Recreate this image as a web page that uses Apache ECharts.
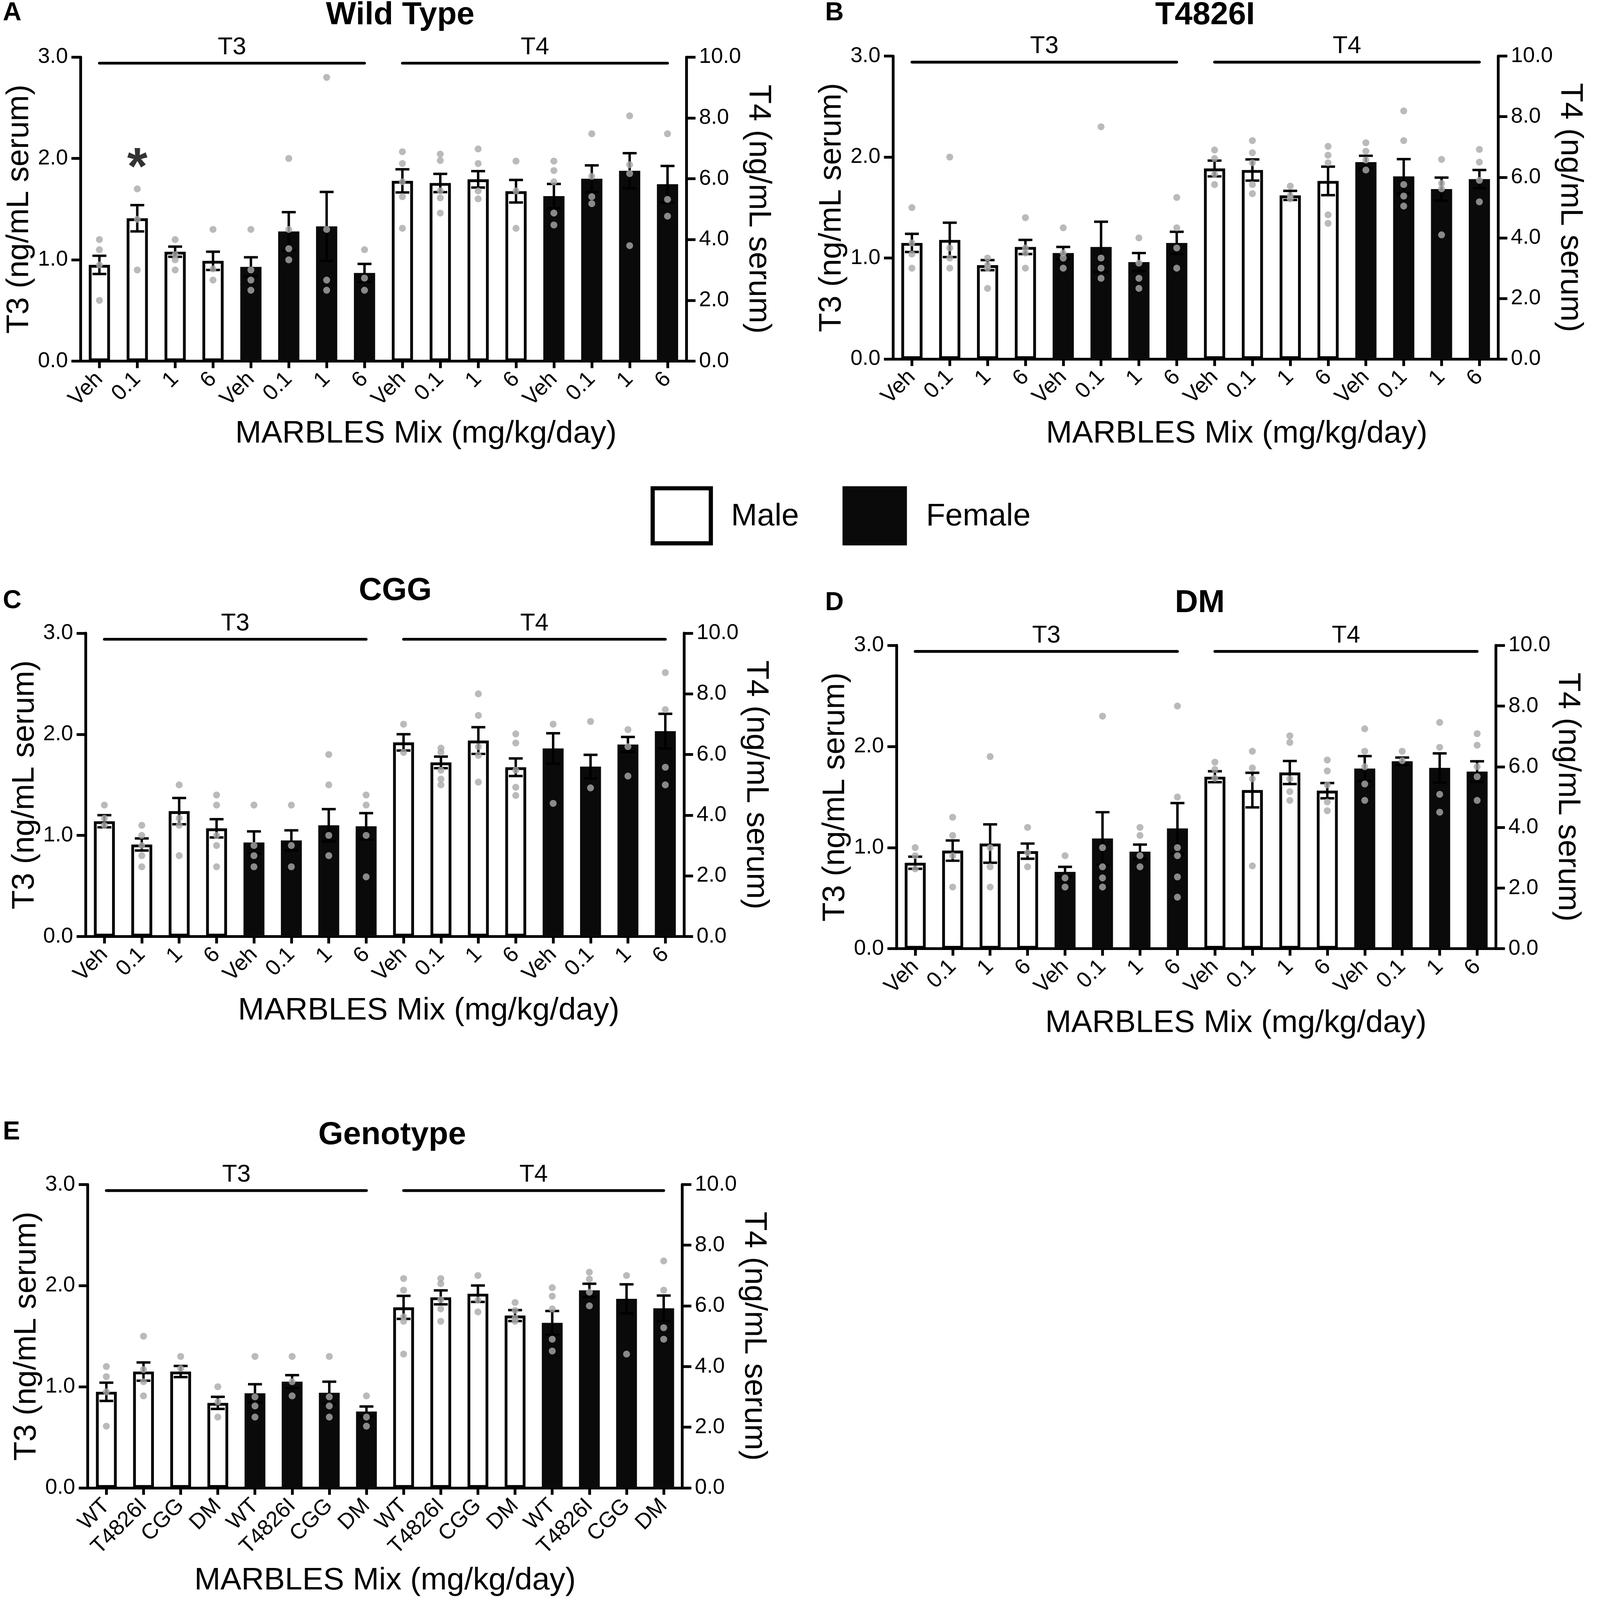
<!DOCTYPE html>
<html>
<head>
<meta charset="utf-8">
<script src="https://cdn.jsdelivr.net/npm/echarts@6/dist/echarts.min.js"></script>
<style>
html, body { margin: 0; padding: 0; background: #fff; overflow: hidden; }
#main { width: 100vw; height: 100vh; }
</style>
</head>
<body>
<div id="main"></div>
<script>
// category labels
var doseLabels = ['Veh', '0.1', '1', '6', 'Veh', '0.1', '1', '6', 'Veh', '0.1', '1', '6', 'Veh', '0.1', '1', '6'];
var genoLabels = ['WT', 'T4826I', 'CGG', 'DM', 'WT', 'T4826I', 'CGG', 'DM', 'WT', 'T4826I', 'CGG', 'DM', 'WT', 'T4826I', 'CGG', 'DM'];
var bracketLabels = ['T3', 'T4'];
var bracketSpans = [[0, 7, 2.94], [8, 15, 2.94]];
var starMarks = [[1, 1.89]];

// order in every array: male Veh,0.1,1,6 then female Veh,0.1,1,6

// A - Wild Type
var wtT3Mean = [0.95, 1.41, 1.08, 0.99, 0.93, 1.28, 1.33, 0.87];
var wtT3Sem = [0.09, 0.13, 0.05, 0.09, 0.095, 0.19, 0.34, 0.09];
var wtT3Dots = [[1.2, 1.1, 0.95, 0.6], [1.7, 1.4, 0.9], [1.2, 1.05, 1.0, 0.9], [1.3, 0.91, 0.8], [1.3, 0.9, 0.8, 0.7], [2.0, 1.3, 1.11, 1.0], [2.8, 1.3, 0.8, 0.7], [1.1, 0.82, 0.7]];
var wtT4Mean = [5.93, 5.86, 5.98, 5.59, 5.43, 6.0, 6.26, 5.82];
var wtT4Sem = [0.38, 0.3, 0.27, 0.37, 0.4, 0.44, 0.58, 0.6];
var wtT4Dots = [[6.89, 6.5, 5.9, 5.41, 4.37], [6.81, 6.6, 5.6, 5.37, 4.87], [6.98, 6.5, 5.6, 5.34], [6.58, 5.6, 4.37], [6.58, 6.27, 5.9, 4.87, 4.48], [7.48, 6.08, 5.41, 5.18], [8.07, 6.46, 6.17, 3.8], [7.48, 5.32, 4.77]];

// B - T4826I
var tiT3Mean = [1.15, 1.18, 0.93, 1.11, 1.05, 1.11, 0.96, 1.15];
var tiT3Sem = [0.09, 0.17, 0.05, 0.07, 0.06, 0.25, 0.09, 0.11];
var tiT3Dots = [[1.5, 1.15, 1.04, 0.9], [2.0, 1.1, 1.0, 0.9], [1.0, 0.93, 0.9, 0.7], [1.4, 1.1, 1.05, 0.9], [1.3, 1.05, 1.0, 0.9], [2.3, 1.0, 0.9, 0.8], [1.2, 0.95, 0.8, 0.7], [1.6, 1.3, 1.1, 0.9]];
var tiT4Mean = [6.29, 6.24, 5.4, 5.88, 6.5, 6.03, 5.61, 5.94];
var tiT4Sem = [0.26, 0.35, 0.15, 0.47, 0.21, 0.57, 0.38, 0.3];
var tiT4Dots = [[6.9, 6.62, 6.1, 5.76], [7.21, 6.81, 6.48, 5.76, 5.46], [5.71, 5.4, 5.29], [7.02, 6.73, 6.48, 4.76, 4.48], [7.14, 6.86, 6.57, 6.24], [8.19, 7.21, 5.76, 5.38, 5.05], [6.59, 5.8, 5.62, 4.1], [6.92, 6.5, 5.9, 5.19]];

// C - CGG
var cgT3Mean = [1.14, 0.91, 1.24, 1.07, 0.93, 0.95, 1.10, 1.09];
var cgT3Sem = [0.06, 0.06, 0.13, 0.09, 0.11, 0.10, 0.16, 0.13];
var cgT3Dots = [[1.3, 1.17, 1.1], [1.1, 1.0, 0.9, 0.8, 0.69], [1.5, 1.17, 1.1, 0.8], [1.4, 1.3, 1.0, 0.9, 0.69], [1.3, 0.9, 0.8, 0.69], [1.3, 0.9, 0.69], [1.8, 1.5, 1.0, 0.8], [1.4, 1.3, 1.0, 0.59]];
var cgT4Mean = [6.4, 5.74, 6.46, 5.58, 6.2, 5.6, 6.33, 6.77];
var cgT4Sem = [0.27, 0.19, 0.44, 0.29, 0.5, 0.39, 0.25, 0.57];
var cgT4Dots = [[7.0, 6.07], [6.21, 6.07, 5.48, 5.19, 5.0], [8.0, 7.29, 6.26, 5.97, 5.09], [6.68, 6.38, 5.48, 4.92, 4.65], [7.0, 4.39], [7.09, 4.9], [6.82, 6.26, 5.29], [8.7, 7.48, 5.58, 5.0]];

// D - DM
var dmT3Mean = [0.85, 0.97, 1.04, 0.965, 0.76, 1.09, 0.96, 1.19];
var dmT3Sem = [0.06, 0.1, 0.19, 0.075, 0.05, 0.26, 0.07, 0.25];
var dmT3Dots = [[1.0, 0.92, 0.79], [1.3, 1.12, 0.92, 0.61], [1.9, 1.0, 0.81, 0.61], [1.2, 0.95, 0.81], [0.92, 0.7, 0.61], [2.3, 1.0, 0.81, 0.7, 0.61], [1.2, 1.12, 0.92, 0.81], [2.4, 1.5, 1.0, 0.92, 0.71, 0.51]];
var dmT4Mean = [5.67, 5.23, 5.81, 5.21, 5.94, 6.18, 5.96, 5.84];
var dmT4Sem = [0.18, 0.57, 0.38, 0.25, 0.41, 0.12, 0.48, 0.34];
var dmT4Dots = [[6.15, 5.91, 5.62], [6.51, 5.96, 5.6, 2.73], [7.02, 6.8, 5.6, 5.18, 4.89], [6.22, 5.86, 5.4, 4.84, 4.55], [7.25, 6.51, 6.0, 5.43, 4.89], [6.51, 6.2], [7.46, 6.64, 5.09, 4.5], [7.09, 6.71, 6.0, 5.67, 4.89]];

// E - Genotype (male WT,T4826I,CGG,DM then female)
var gnT3Mean = [0.95, 1.15, 1.15, 0.84, 0.935, 1.05, 0.94, 0.755];
var gnT3Sem = [0.09, 0.09, 0.055, 0.06, 0.09, 0.065, 0.11, 0.05];
var gnT3Dots = [[1.2, 1.1, 0.95, 0.61], [1.5, 1.17, 1.05, 0.91], [1.3, 1.18], [1.0, 0.85, 0.7], [1.3, 0.9, 0.81, 0.7], [1.3, 1.05, 0.91], [1.3, 0.9, 0.81, 0.7], [0.91, 0.7, 0.61]];
var gnT4Mean = [5.95, 6.28, 6.4, 5.68, 5.44, 6.51, 6.23, 5.92];
var gnT4Sem = [0.38, 0.23, 0.27, 0.18, 0.39, 0.22, 0.48, 0.42];
var gnT4Dots = [[6.9, 6.52, 5.64, 5.49, 4.41], [6.9, 6.73, 6.2, 5.9, 5.49], [7.0, 6.19, 5.8], [6.11, 5.85, 5.59, 5.49], [6.6, 6.32, 5.9, 4.9, 4.51], [7.11, 6.88, 6.45, 6.0], [7.0, 4.41], [7.48, 6.52, 5.28, 4.9]];

var FONT = "'Liberation Sans', Arial, sans-serif";
var NARROW = "'Liberation Sans Narrow', 'Liberation Sans', Arial, sans-serif";
var xName = 'MARBLES Mix (mg/kg/day)';

// layout is designed on a 4550 x 4594 page and scaled to the real viewport
var dom = document.getElementById('main');
var K = Math.min(dom.clientWidth / 4550, dom.clientHeight / 4594);
function s(v) { return v * K; }

var panels = [
    { letter: 'A', title: 'Wild Type', cats: doseLabels, t3: [wtT3Mean, wtT3Sem, wtT3Dots], t4: [wtT4Mean, wtT4Sem, wtT4Dots],
      left: 231, top: 164, width: 1740, height: 873, nameGap: 164, nameShift: 122, letterXY: [8, 38], titleXY: [1149, 44], star: true },
    { letter: 'B', title: 'T4826I', cats: doseLabels, t3: [tiT3Mean, tiT3Sem, tiT3Dots], t4: [tiT4Mean, tiT4Sem, tiT4Dots],
      left: 2564, top: 161, width: 1738, height: 870, nameGap: 170, nameShift: 118, letterXY: [2369, 38], titleXY: [3460, 44] },
    { letter: 'C', title: 'CGG', cats: doseLabels, t3: [cgT3Mean, cgT3Sem, cgT3Dots], t4: [cgT4Mean, cgT4Sem, cgT4Dots],
      left: 246, top: 1818, width: 1718, height: 871, nameGap: 169, nameShift: 126, letterXY: [8, 1726], titleXY: [1135, 1697] },
    { letter: 'D', title: 'DM', cats: doseLabels, t3: [dmT3Mean, dmT3Sem, dmT3Dots], t4: [dmT4Mean, dmT4Sem, dmT4Dots],
      left: 2574, top: 1853, width: 1721, height: 871, nameGap: 169, nameShift: 114, letterXY: [2369, 1732], titleXY: [3445, 1732] },
    { letter: 'E', title: 'Genotype', cats: genoLabels, t3: [gnT3Mean, gnT3Sem, gnT3Dots], t4: [gnT4Mean, gnT4Sem, gnT4Dots],
      left: 252, top: 3401, width: 1707, height: 871, nameGap: 222, nameShift: 0, letterXY: [8, 3251], titleXY: [1126, 3260] }
];

var maleStyle = { color: '#ffffff', borderColor: '#000000', borderWidth: s(8) };
var femaleStyle = { color: '#0a0a0a', borderColor: '#0a0a0a', borderWidth: s(8) };
var lineStyle = { stroke: '#000', lineWidth: s(7) };

function errorItem(params, api) {
    var x = api.value(0), m = api.value(1), e = api.value(2);
    var hi = api.coord([x, m + e]);
    var lo = api.coord([x, m - e]);
    var hw = s(20);
    return {
        type: 'group',
        children: [
            { type: 'line', shape: { x1: hi[0], y1: hi[1], x2: lo[0], y2: lo[1] }, style: lineStyle },
            { type: 'line', shape: { x1: hi[0] - hw, y1: hi[1], x2: hi[0] + hw, y2: hi[1] }, style: lineStyle },
            { type: 'line', shape: { x1: lo[0] - hw, y1: lo[1], x2: lo[0] + hw, y2: lo[1] }, style: lineStyle }
        ]
    };
}

function bracketItem(params, api) {
    var a = api.coord([api.value(0), api.value(2)]);
    var b = api.coord([api.value(1), api.value(2)]);
    return {
        type: 'group',
        children: [
            { type: 'line', shape: { x1: a[0], y1: a[1], x2: b[0], y2: b[1] },
              style: { stroke: '#000', lineWidth: s(8), lineCap: 'round' } },
            { type: 'text', x: (a[0] + b[0]) / 2, y: a[1] - s(45),
              style: { text: bracketLabels[params.dataIndex], fill: '#000', fontSize: s(70), fontFamily: NARROW,
                       align: 'center', verticalAlign: 'middle' } }
        ]
    };
}

var grids = [], xAxes = [], yAxes = [], series = [], graphics = [];
var axisStroke = { color: '#000', width: s(8) };

panels.forEach(function (p, k) {
    grids.push({ left: s(p.left), top: s(p.top), width: s(p.width), height: s(p.height) });

    xAxes.push({
        type: 'category', gridIndex: k, data: p.cats,
        axisLine: { show: true, onZero: false, lineStyle: axisStroke },
        axisTick: { show: true, alignWithLabel: true, length: s(20), lineStyle: axisStroke },
        axisLabel: { interval: 0, rotate: 45, margin: s(42), fontSize: s(63), color: '#000', fontFamily: FONT },
        splitLine: { show: false },
        name: xName, nameLocation: 'middle', nameGap: s(p.nameGap),
        nameTextStyle: { fontSize: s(90), color: '#000', fontFamily: FONT, padding: [0, 0, 0, s(p.nameShift * 2)] }
    });

    yAxes.push({
        type: 'value', gridIndex: k, position: 'left', min: 0, max: 3, interval: 1,
        axisLine: { show: true, lineStyle: axisStroke },
        axisTick: { show: true, length: s(26), lineStyle: axisStroke },
        axisLabel: { margin: s(36), fontSize: s(62), color: '#000', fontFamily: FONT,
                     formatter: function (v) { return v.toFixed(1); } },
        splitLine: { show: false },
        name: 'T3 (ng/mL serum)', nameLocation: 'middle', nameRotate: 90, nameGap: s(130),
        nameTextStyle: { fontSize: s(90), color: '#000', fontFamily: FONT }
    });
    yAxes.push({
        type: 'value', gridIndex: k, position: 'right', min: 0, max: 10, interval: 2,
        axisLine: { show: true, lineStyle: axisStroke },
        axisTick: { show: true, length: s(26), lineStyle: axisStroke },
        axisLabel: { margin: s(36), fontSize: s(62), color: '#000', fontFamily: FONT,
                     formatter: function (v) { return v.toFixed(1); } },
        splitLine: { show: false },
        name: 'T4 (ng/mL serum)', nameLocation: 'middle', nameRotate: -90, nameGap: s(150),
        nameTextStyle: { fontSize: s(90), color: '#000', fontFamily: FONT }
    });

    var yl = 2 * k, yr = 2 * k + 1;
    var t3Bars = [], t4Bars = [], t3Err = [], t4Err = [], t3Pts = [], t4Pts = [];
    for (var i = 0; i < 16; i++) { t3Bars.push('-'); t4Bars.push('-'); }
    p.t3[0].forEach(function (m, i) {
        t3Bars[i] = { value: m, itemStyle: i < 4 ? maleStyle : femaleStyle };
        t3Err.push([i, m, p.t3[1][i]]);
        p.t3[2][i].forEach(function (v) { t3Pts.push([i, v]); });
    });
    p.t4[0].forEach(function (m, i) {
        t4Bars[8 + i] = { value: m, itemStyle: i < 4 ? maleStyle : femaleStyle };
        t4Err.push([8 + i, m, p.t4[1][i]]);
        p.t4[2][i].forEach(function (v) { t4Pts.push([8 + i, v]); });
    });

    series.push(
        { type: 'bar', xAxisIndex: k, yAxisIndex: yl, data: t3Bars, barWidth: '56%', barGap: '-100%', z: 2 },
        { type: 'bar', xAxisIndex: k, yAxisIndex: yr, data: t4Bars, barWidth: '56%', barGap: '-100%', z: 2 },
        { type: 'custom', xAxisIndex: k, yAxisIndex: yl, data: t3Err, renderItem: errorItem, encode: { x: 0, y: 1 }, z: 3 },
        { type: 'custom', xAxisIndex: k, yAxisIndex: yr, data: t4Err, renderItem: errorItem, encode: { x: 0, y: 1 }, z: 3 },
        { type: 'scatter', xAxisIndex: k, yAxisIndex: yl, data: t3Pts, symbolSize: s(20), itemStyle: { color: '#a9a9a9' }, z: 4 },
        { type: 'scatter', xAxisIndex: k, yAxisIndex: yr, data: t4Pts, symbolSize: s(20), itemStyle: { color: '#a9a9a9' }, z: 4 },
        { type: 'custom', xAxisIndex: k, yAxisIndex: yl, data: bracketSpans, renderItem: bracketItem,
          encode: { x: [0, 1], y: 2 }, clip: false, z: 5 }
    );
    if (p.star) {
        series.push({ type: 'scatter', xAxisIndex: k, yAxisIndex: yl, data: starMarks, symbolSize: 1,
            itemStyle: { color: 'rgba(0,0,0,0)' }, z: 5,
            label: { show: true, position: 'inside', formatter: '*', fontSize: s(150), fontWeight: 'bold',
                     color: '#000', fontFamily: FONT } });
    }

    graphics.push(
        { type: 'text', x: s(p.letterXY[0]), y: s(p.letterXY[1]),
          style: { text: p.letter, fontSize: s(74), fontWeight: 'bold', fontFamily: FONT, fill: '#000',
                   align: 'left', verticalAlign: 'middle' } },
        { type: 'text', x: s(p.titleXY[0]), y: s(p.titleXY[1]),
          style: { text: p.title, fontSize: s(92), fontWeight: 'bold', fontFamily: FONT, fill: '#000',
                   align: 'center', verticalAlign: 'middle' } }
    );
});

// shared legend between the rows
graphics.push(
    { type: 'rect', shape: { x: s(1874), y: s(1402), width: s(167), height: s(158) },
      style: { fill: '#fff', stroke: '#000', lineWidth: s(12) } },
    { type: 'text', x: s(2099), y: s(1484),
      style: { text: 'Male', fontSize: s(90), fontFamily: FONT, fill: '#000', align: 'left', verticalAlign: 'middle' } },
    { type: 'rect', shape: { x: s(2419), y: s(1396), width: s(185), height: s(170) },
      style: { fill: '#0a0a0a' } },
    { type: 'text', x: s(2659), y: s(1484),
      style: { text: 'Female', fontSize: s(90), fontFamily: FONT, fill: '#000', align: 'left', verticalAlign: 'middle' } }
);

var chart = echarts.init(dom);
var option = {
    animation: false,
    backgroundColor: '#fff',
    grid: grids,
    xAxis: xAxes,
    yAxis: yAxes,
    series: series,
    graphic: graphics
};
chart.setOption(option);
</script>
</body>
</html>
